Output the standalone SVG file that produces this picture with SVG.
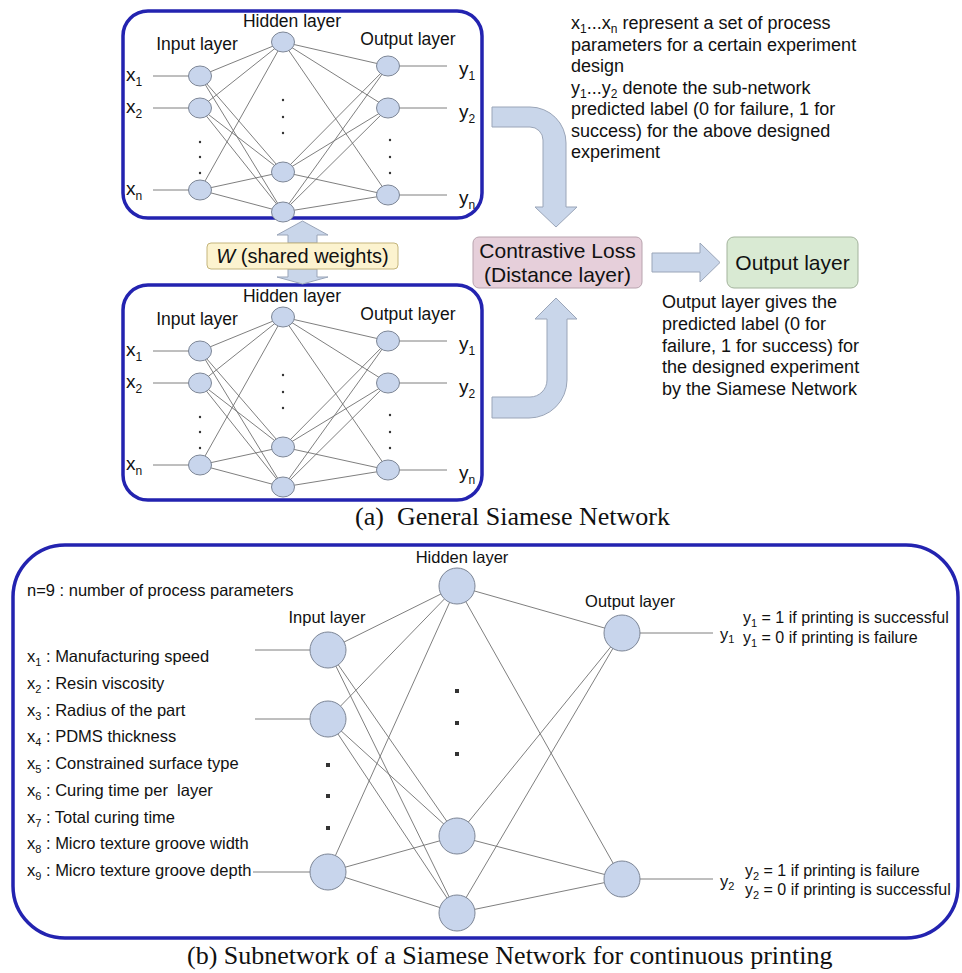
<svg xmlns="http://www.w3.org/2000/svg" width="962" height="973" viewBox="0 0 962 973">
<style>
.t{font-family:"Liberation Sans",Arial,sans-serif;fill:#111}
.cap{font-family:"Liberation Serif","Times New Roman",serif;fill:#111;font-size:26px}
.frame{fill:none;stroke:#2323b0;stroke-width:3.5}
.nd{fill:#c8d5ec;stroke:#7d8696;stroke-width:1}
.ln{stroke:#707070;stroke-width:0.9;fill:none}
.bar{fill:#c9d6ea;stroke:#9aa5b8;stroke-width:1}
.dot{fill:#333}
</style>

<!-- frames -->
<g id="frame-a1"><rect class="frame" x="123" y="11" width="359" height="207" rx="25"/></g>
<g id="frame-a2"><rect class="frame" x="123" y="285" width="359" height="215" rx="25"/></g>
<g id="frame-b"><rect class="frame" x="13" y="545" width="945" height="393" rx="52"/></g>

<!-- connectors -->
<g id="connectors">
  <!-- top network -->
  <g class="ln">
    <line x1="153" y1="76" x2="200" y2="76"/><line x1="153" y1="108" x2="200" y2="108"/><line x1="153" y1="190" x2="200" y2="190"/>
    <line x1="200" y1="76" x2="283" y2="42"/><line x1="200" y1="76" x2="283" y2="172"/><line x1="200" y1="76" x2="283" y2="212"/>
    <line x1="200" y1="108" x2="283" y2="42"/><line x1="200" y1="108" x2="283" y2="172"/><line x1="200" y1="108" x2="283" y2="212"/>
    <line x1="200" y1="190" x2="283" y2="42"/><line x1="200" y1="190" x2="283" y2="172"/><line x1="200" y1="190" x2="283" y2="212"/>
    <line x1="283" y1="42" x2="388" y2="66"/><line x1="283" y1="42" x2="388" y2="108"/><line x1="283" y1="42" x2="388" y2="195"/>
    <line x1="283" y1="172" x2="388" y2="66"/><line x1="283" y1="172" x2="388" y2="108"/><line x1="283" y1="172" x2="388" y2="195"/>
    <line x1="283" y1="212" x2="388" y2="66"/><line x1="283" y1="212" x2="388" y2="108"/><line x1="283" y1="212" x2="388" y2="195"/>
    <line x1="388" y1="66" x2="447" y2="66"/><line x1="388" y1="108" x2="447" y2="108"/><line x1="388" y1="195" x2="447" y2="195"/>
  </g>
  <!-- second network -->
  <g class="ln">
    <line x1="153" y1="351" x2="200" y2="351"/><line x1="153" y1="383" x2="200" y2="383"/><line x1="153" y1="465" x2="200" y2="465"/>
    <line x1="200" y1="351" x2="283" y2="317"/><line x1="200" y1="351" x2="283" y2="447"/><line x1="200" y1="351" x2="283" y2="487"/>
    <line x1="200" y1="383" x2="283" y2="317"/><line x1="200" y1="383" x2="283" y2="447"/><line x1="200" y1="383" x2="283" y2="487"/>
    <line x1="200" y1="465" x2="283" y2="317"/><line x1="200" y1="465" x2="283" y2="447"/><line x1="200" y1="465" x2="283" y2="487"/>
    <line x1="283" y1="317" x2="388" y2="341"/><line x1="283" y1="317" x2="388" y2="383"/><line x1="283" y1="317" x2="388" y2="470"/>
    <line x1="283" y1="447" x2="388" y2="341"/><line x1="283" y1="447" x2="388" y2="383"/><line x1="283" y1="447" x2="388" y2="470"/>
    <line x1="283" y1="487" x2="388" y2="341"/><line x1="283" y1="487" x2="388" y2="383"/><line x1="283" y1="487" x2="388" y2="470"/>
    <line x1="388" y1="341" x2="447" y2="341"/><line x1="388" y1="383" x2="447" y2="383"/><line x1="388" y1="470" x2="447" y2="470"/>
  </g>
  <!-- subnetwork (b) -->
  <g class="ln">
    <line x1="255" y1="650" x2="328" y2="650"/><line x1="255" y1="719" x2="328" y2="719"/><line x1="253" y1="872" x2="328" y2="872"/>
    <line x1="328" y1="650" x2="457" y2="586"/><line x1="328" y1="650" x2="457" y2="836"/><line x1="328" y1="650" x2="457" y2="913"/>
    <line x1="328" y1="719" x2="457" y2="586"/><line x1="328" y1="719" x2="457" y2="836"/><line x1="328" y1="719" x2="457" y2="913"/>
    <line x1="328" y1="872" x2="457" y2="586"/><line x1="328" y1="872" x2="457" y2="836"/><line x1="328" y1="872" x2="457" y2="913"/>
    <line x1="457" y1="586" x2="622" y2="633"/><line x1="457" y1="586" x2="622" y2="879"/>
    <line x1="457" y1="836" x2="622" y2="633"/><line x1="457" y1="836" x2="622" y2="879"/>
    <line x1="457" y1="913" x2="622" y2="633"/><line x1="457" y1="913" x2="622" y2="879"/>
    <line x1="622" y1="633" x2="713" y2="633"/><line x1="622" y1="879" x2="713" y2="879"/>
  </g>
  <!-- block arrows -->
  <path class="bar" d="M288,243 V235 H277 L302.5,221 L328,235 H317 V243 Z"/>
  <path class="bar" d="M288,269 V277 H277 L302.5,284 L328,277 H317 V269 Z"/>
  <path class="bar" d="M492,107 H530 A36,36 0 0 1 566,143 V207 H577 L556,227 L535,207 H543 V140 A13,13 0 0 0 530,127 H492 Z"/>
  <path class="bar" d="M492,397 H530 A17,17 0 0 0 547,380 V319 H535 L556,298 L577,319 H567 V380 A38,38 0 0 1 529,418 H492 Z"/>
  <path class="bar" d="M652,253 H700 V243 L720,262.5 L700,282 V272 H652 Z"/>
</g>

<!-- top network nodes -->
<g id="net-a1" class="t">
  <text x="292" y="27" font-size="17.5" text-anchor="middle">Hidden layer</text>
  <text x="197" y="50" font-size="17.5" text-anchor="middle">Input layer</text>
  <text x="408" y="45" font-size="17.5" text-anchor="middle">Output layer</text>
  <g id="a1-in1"><ellipse class="nd" cx="200" cy="76" rx="11.5" ry="10"/></g>
  <g id="a1-in2"><ellipse class="nd" cx="200" cy="108" rx="11.5" ry="10"/></g>
  <g id="a1-inn"><ellipse class="nd" cx="200" cy="190" rx="11.5" ry="10"/></g>
  <g id="a1-h1"><ellipse class="nd" cx="283" cy="42" rx="11.5" ry="10"/></g>
  <g id="a1-h3"><ellipse class="nd" cx="283" cy="172" rx="11.5" ry="10"/></g>
  <g id="a1-h4"><ellipse class="nd" cx="283" cy="212" rx="11.5" ry="10"/></g>
  <g id="a1-o1"><ellipse class="nd" cx="388" cy="66" rx="11.5" ry="10"/></g>
  <g id="a1-o2"><ellipse class="nd" cx="388" cy="108" rx="11.5" ry="10"/></g>
  <g id="a1-on"><ellipse class="nd" cx="388" cy="195" rx="11.5" ry="10"/></g>
  <g class="dot"><circle cx="200" cy="142" r="1.2"/><circle cx="200" cy="157" r="1.2"/><circle cx="200" cy="173" r="1.2"/>
  <circle cx="283" cy="100" r="1.2"/><circle cx="283" cy="117" r="1.2"/><circle cx="283" cy="133" r="1.2"/>
  <circle cx="390" cy="140" r="1.2"/><circle cx="390" cy="157" r="1.2"/><circle cx="390" cy="173" r="1.2"/></g>
  <text x="126" y="81" font-size="19">x<tspan font-size="12" dy="5">1</tspan></text>
  <text x="126" y="113" font-size="19">x<tspan font-size="12" dy="5">2</tspan></text>
  <text x="126" y="195" font-size="19">x<tspan font-size="12" dy="5">n</tspan></text>
  <text x="459" y="75" font-size="19">y<tspan font-size="12" dy="5">1</tspan></text>
  <text x="459" y="118" font-size="19">y<tspan font-size="12" dy="5">2</tspan></text>
  <text x="459" y="204" font-size="19">y<tspan font-size="12" dy="5">n</tspan></text>
</g>

<!-- second network nodes -->
<g id="net-a2" class="t">
  <text x="292" y="302" font-size="17.5" text-anchor="middle">Hidden layer</text>
  <text x="197" y="325" font-size="17.5" text-anchor="middle">Input layer</text>
  <text x="408" y="320" font-size="17.5" text-anchor="middle">Output layer</text>
  <g id="a2-in1"><ellipse class="nd" cx="200" cy="351" rx="11.5" ry="10"/></g>
  <g id="a2-in2"><ellipse class="nd" cx="200" cy="383" rx="11.5" ry="10"/></g>
  <g id="a2-inn"><ellipse class="nd" cx="200" cy="465" rx="11.5" ry="10"/></g>
  <g id="a2-h1"><ellipse class="nd" cx="283" cy="317" rx="11.5" ry="10"/></g>
  <g id="a2-h3"><ellipse class="nd" cx="283" cy="447" rx="11.5" ry="10"/></g>
  <g id="a2-h4"><ellipse class="nd" cx="283" cy="487" rx="11.5" ry="10"/></g>
  <g id="a2-o1"><ellipse class="nd" cx="388" cy="341" rx="11.5" ry="10"/></g>
  <g id="a2-o2"><ellipse class="nd" cx="388" cy="383" rx="11.5" ry="10"/></g>
  <g id="a2-on"><ellipse class="nd" cx="388" cy="470" rx="11.5" ry="10"/></g>
  <g class="dot"><circle cx="200" cy="417" r="1.2"/><circle cx="200" cy="432" r="1.2"/><circle cx="200" cy="448" r="1.2"/>
  <circle cx="283" cy="375" r="1.2"/><circle cx="283" cy="392" r="1.2"/><circle cx="283" cy="408" r="1.2"/>
  <circle cx="390" cy="415" r="1.2"/><circle cx="390" cy="432" r="1.2"/><circle cx="390" cy="448" r="1.2"/></g>
  <text x="126" y="356" font-size="19">x<tspan font-size="12" dy="5">1</tspan></text>
  <text x="126" y="388" font-size="19">x<tspan font-size="12" dy="5">2</tspan></text>
  <text x="126" y="470" font-size="19">x<tspan font-size="12" dy="5">n</tspan></text>
  <text x="459" y="350" font-size="19">y<tspan font-size="12" dy="5">1</tspan></text>
  <text x="459" y="393" font-size="19">y<tspan font-size="12" dy="5">2</tspan></text>
  <text x="459" y="479" font-size="19">y<tspan font-size="12" dy="5">n</tspan></text>
</g>

<!-- shared weights box -->
<g id="shared-weights">
  <rect x="207" y="243" width="191" height="26" rx="4" fill="#fcf3cf" stroke="#c4b57c" stroke-width="1"/>
  <text class="t" x="302.5" y="263" font-size="20" text-anchor="middle"><tspan font-style="italic">W</tspan> (shared weights)</text>
</g>

<!-- contrastive loss -->
<g id="contrastive-loss">
  <rect x="473" y="237" width="169" height="51" rx="6" fill="#e6cfda" stroke="#b8a3ae" stroke-width="1"/>
  <text class="t" x="557.5" y="258" font-size="21" text-anchor="middle">Contrastive Loss</text>
  <text class="t" x="557.5" y="282" font-size="21" text-anchor="middle">(Distance layer)</text>
</g>

<!-- output layer box -->
<g id="output-layer">
  <rect x="727" y="237" width="131" height="51" rx="7" fill="#d9ead3" stroke="#a3b39c" stroke-width="1"/>
  <text class="t" x="792.5" y="270" font-size="21" text-anchor="middle">Output layer</text>
</g>

<!-- explanatory texts -->
<g id="note-top" class="t" font-size="18">
  <text x="571" y="29">x<tspan font-size="12" dy="4">1</tspan><tspan dy="-4">...x</tspan><tspan font-size="12" dy="4">n</tspan><tspan dy="-4"> represent a set of process</tspan></text>
  <text x="571" y="50.5">parameters for a certain experiment</text>
  <text x="571" y="72">design</text>
  <text x="571" y="93.5">y<tspan font-size="12" dy="4">1</tspan><tspan dy="-4">...y</tspan><tspan font-size="12" dy="4">2</tspan><tspan dy="-4"> denote the sub-network</tspan></text>
  <text x="571" y="115">predicted label (0 for failure, 1 for</text>
  <text x="571" y="136.5">success) for the above designed</text>
  <text x="571" y="158">experiment</text>
</g>
<g id="note-output" class="t" font-size="18">
  <text x="662" y="308">Output layer gives the</text>
  <text x="662" y="330">predicted label (0 for</text>
  <text x="662" y="351.5">failure, 1 for success) for</text>
  <text x="662" y="373">the designed experiment</text>
  <text x="662" y="395">by the Siamese Network</text>
</g>

<text class="cap" x="355" y="525">(a)<tspan x="397">General Siamese Network</tspan></text>

<!-- subnetwork (b) -->
<g id="net-b" class="t">
  <text x="27" y="596" font-size="16.5">n=9 : number of process parameters</text>
  <g font-size="16.5">
    <text x="27" y="662">x<tspan font-size="11" dy="4">1</tspan><tspan dy="-4"> : Manufacturing speed</tspan></text>
    <text x="27" y="688.75">x<tspan font-size="11" dy="4">2</tspan><tspan dy="-4"> : Resin viscosity</tspan></text>
    <text x="27" y="715.5">x<tspan font-size="11" dy="4">3</tspan><tspan dy="-4"> : Radius of the part</tspan></text>
    <text x="27" y="742.25">x<tspan font-size="11" dy="4">4</tspan><tspan dy="-4"> : PDMS thickness</tspan></text>
    <text x="27" y="769">x<tspan font-size="11" dy="4">5</tspan><tspan dy="-4"> : Constrained surface type</tspan></text>
    <text x="27" y="795.75">x<tspan font-size="11" dy="4">6</tspan><tspan dy="-4"> : Curing time per&#160; layer</tspan></text>
    <text x="27" y="822.5">x<tspan font-size="11" dy="4">7</tspan><tspan dy="-4"> : Total curing time</tspan></text>
    <text x="27" y="849.25">x<tspan font-size="11" dy="4">8</tspan><tspan dy="-4"> : Micro texture groove width</tspan></text>
    <text x="27" y="876">x<tspan font-size="11" dy="4">9</tspan><tspan dy="-4"> : Micro texture groove depth</tspan></text>
  </g>
  <text x="327" y="623" font-size="16.5" text-anchor="middle">Input layer</text>
  <text x="462" y="563" font-size="16.5" text-anchor="middle">Hidden layer</text>
  <text x="630" y="607" font-size="16.5" text-anchor="middle">Output layer</text>
  <g id="b-in1"><circle class="nd" cx="328" cy="650" r="18"/></g>
  <g id="b-in2"><circle class="nd" cx="328" cy="719" r="18"/></g>
  <g id="b-in9"><circle class="nd" cx="328" cy="872" r="18"/></g>
  <g id="b-h1"><circle class="nd" cx="457" cy="586" r="18"/></g>
  <g id="b-h3"><circle class="nd" cx="457" cy="836" r="18"/></g>
  <g id="b-h4"><circle class="nd" cx="457" cy="913" r="18"/></g>
  <g id="b-o1"><circle class="nd" cx="622" cy="633" r="18"/></g>
  <g id="b-o2"><circle class="nd" cx="622" cy="879" r="18"/></g>
  <g class="dot">
    <rect x="326" y="763" width="4" height="4"/><rect x="326" y="794" width="4" height="4"/><rect x="326" y="826" width="4" height="4"/>
    <rect x="455" y="689" width="4" height="4"/><rect x="455" y="721" width="4" height="4"/><rect x="455" y="752" width="4" height="4"/>
  </g>
  <text x="720" y="640" font-size="16.5">y<tspan font-size="11" dy="3">1</tspan></text>
  <text x="720" y="887" font-size="16.5">y<tspan font-size="11" dy="3">2</tspan></text>
  <text x="743" y="623" font-size="16">y<tspan font-size="11" dy="4">1</tspan><tspan dy="-4"> = 1 if printing is successful</tspan></text>
  <text x="743" y="643" font-size="16">y<tspan font-size="11" dy="4">1</tspan><tspan dy="-4"> = 0 if printing is failure</tspan></text>
  <text x="745" y="876" font-size="16">y<tspan font-size="11" dy="4">2</tspan><tspan dy="-4"> = 1 if printing is failure</tspan></text>
  <text x="745" y="895" font-size="16">y<tspan font-size="11" dy="4">2</tspan><tspan dy="-4"> = 0 if printing is successful</tspan></text>
</g>

<text class="cap" x="187" y="964">(b) Subnetwork of a Siamese Network for continuous printing</text>
</svg>
